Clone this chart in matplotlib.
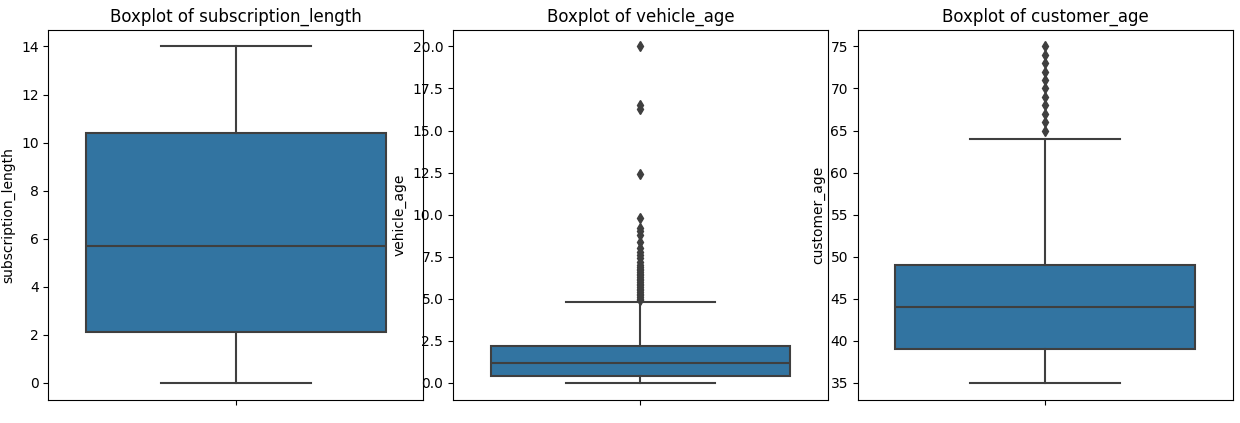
import numpy as np
import matplotlib.pyplot as plt

columns = ['subscription_length', 'vehicle_age', 'customer_age']
whislo = [0.0, 0.0, 35.0]
q1 = [2.1, 0.4, 39.0]
med = [5.7, 1.2, 44.0]
q3 = [10.4, 2.2, 49.0]
whishi = [14.0, 4.8, 64.0]
fliers = [
    [],
    [4.9, 5.0, 5.1, 5.2, 5.3, 5.4, 5.5, 5.6, 5.7, 5.8, 5.9, 6.0, 6.1, 6.2, 6.3, 6.4,
     6.5, 6.6, 6.7, 6.8, 6.9, 7.0, 7.2, 7.4, 7.6, 7.8, 8.0, 8.4, 8.8, 9.0, 9.2, 9.8,
     12.4, 16.3, 16.5, 20.0],
    [65, 66, 67, 68, 69, 70, 71, 72, 73, 74, 75],
]

fig, axes = plt.subplots(1, 3, figsize=(12.4, 4.23), dpi=100)
fig.subplots_adjust(left=0.039, right=0.994, top=0.93, bottom=0.055, wspace=0.08)

line_col = '#3f3f3f'
for i, ax in enumerate(axes):
    stats = [dict(whislo=whislo[i], q1=q1[i], med=med[i], q3=q3[i],
                  whishi=whishi[i], fliers=fliers[i])]
    ax.bxp(stats, positions=[0], widths=0.8, patch_artist=True,
           boxprops=dict(facecolor='#3274a1', edgecolor=line_col, linewidth=1.5),
           medianprops=dict(color=line_col, linewidth=1.5),
           whiskerprops=dict(color=line_col, linewidth=1.5),
           capprops=dict(color=line_col, linewidth=1.5),
           flierprops=dict(marker='d', markerfacecolor=line_col,
                           markeredgecolor=line_col, markersize=5))
    ax.set_xlim(-0.5, 0.5)
    ax.set_xticks([0])
    ax.set_xticklabels([''])
    ax.set_ylabel(columns[i])
    ax.set_title(f'Boxplot of {columns[i]}')

plt.savefig('out.png')
